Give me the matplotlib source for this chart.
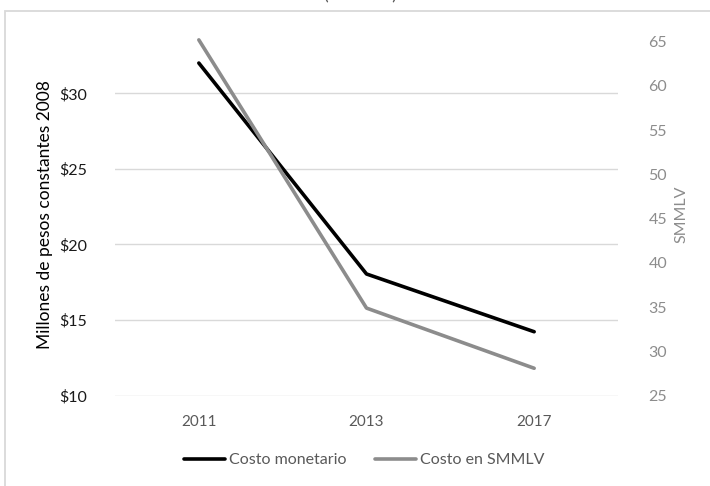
import matplotlib
matplotlib.use("Agg")
import matplotlib.pyplot as plt
from matplotlib.patches import Rectangle

years = ["2011", "2013", "2017"]
costo_monetario = [32.0, 18.05, 14.23]
costo_smmlv = [65.2, 34.9, 28.1]
left_ticks = [10, 15, 20, 25, 30]
left_tick_labels = ["$10", "$15", "$20", "$25", "$30"]
right_ticks = [25, 30, 35, 40, 45, 50, 55, 60, 65]

plt.rcParams['font.family'] = ['Lato', 'DejaVu Sans']

fig = plt.figure(figsize=(7.10, 4.86), dpi=100)
W, H = 710, 486

# chart frame
fig.patches.append(Rectangle((5 / W, -0.1), 1.2, (H - 11) / H + 0.1,
                             transform=fig.transFigure, fill=False,
                             edgecolor="#D9D9D9", linewidth=1.3))
# partially visible title (cut at the top edge as in the reference)
fig.text(360 / W, 1 - 0.5 / H, "(SMMLV)", ha="center", va="baseline",
         fontsize=13, color="#595959")

ax_l, ax_r_px, ax_b_px, ax_t_px = 115, 618, 395.7, 32.8
ax = fig.add_axes([ax_l / W, (H - ax_b_px) / H, (ax_r_px - ax_l) / W,
                   (ax_b_px - ax_t_px) / H])
ax2 = ax.twinx()

ax.set_ylim(10, 34)
ax2.set_ylim(25, 66.0)
ax.set_yticks(left_ticks)
ax.set_yticklabels(left_tick_labels)
ax2.set_yticks(right_ticks)
ax.yaxis.grid(True, color="#D9D9D9", linewidth=1.0)
ax.set_axisbelow(True)

l1, = ax.plot(years, costo_monetario, color="#000000", linewidth=2.6,
              solid_capstyle="round", label="Costo monetario")
l2, = ax2.plot(years, costo_smmlv, color="#8C8C8C", linewidth=2.6,
               solid_capstyle="round", label="Costo en SMMLV")
ax.set_xlim(-0.5, 2.5)

for a in (ax, ax2):
    for s in a.spines.values():
        s.set_visible(False)
    a.tick_params(length=0)

ax.tick_params(axis="y", labelsize=11.5, labelcolor="#1A1A1A", pad=20)
ax.tick_params(axis="x", labelsize=11, labelcolor="#595959", pad=14)
ax2.tick_params(axis="y", labelsize=11.5, labelcolor="#8C8C8C", pad=22)

ax.set_ylabel("Millones de pesos constantes 2008", fontsize=12.5,
              color="#000000")
ax2.set_ylabel("SMMLV", fontsize=11.5, color="#8C8C8C")
ax.yaxis.set_label_coords((53 - ax_l) / (ax_r_px - ax_l), 0.5,
                          transform=ax.transAxes)
ax2.yaxis.set_label_coords((674 - ax_l) / (ax_r_px - ax_l), 0.5,
                           transform=ax.transAxes)

fig.legend(handles=[l1, l2], loc="center", bbox_to_anchor=(364 / W, 1 - 460 / H),
           ncol=2, frameon=False, fontsize=11.5, handlelength=2.6,
           handletextpad=0.2, columnspacing=1.8, labelcolor="#595959")

fig.savefig("out.png", dpi=100)
